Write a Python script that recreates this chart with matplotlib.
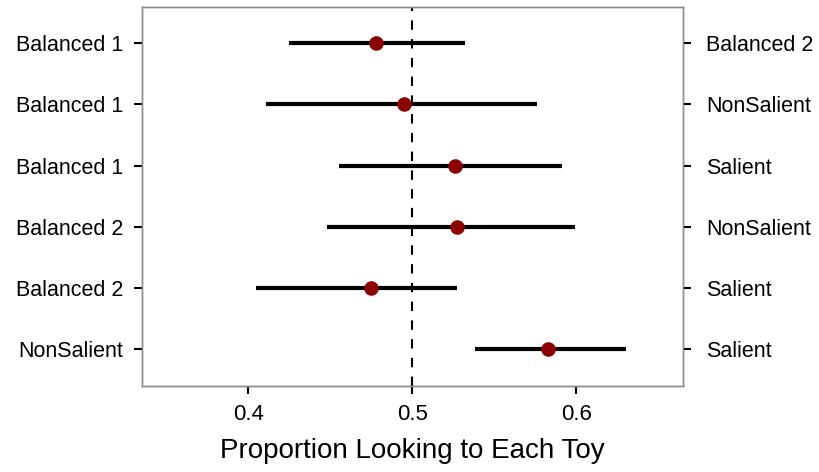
import matplotlib
matplotlib.use("Agg")
import matplotlib.pyplot as plt
import numpy as np

left_labels = ["Balanced 1", "Balanced 1", "Balanced 1", "Balanced 2", "Balanced 2", "NonSalient"]
right_labels = ["Balanced 2", "NonSalient", "Salient", "NonSalient", "Salient", "Salient"]
means = [0.478, 0.495, 0.526, 0.527, 0.475, 0.583]
lows = [0.425, 0.411, 0.455, 0.448, 0.4045, 0.538]
highs = [0.532, 0.576, 0.591, 0.599, 0.527, 0.630]
xticks = [0.4, 0.5, 0.6]
xlabel = "Proportion Looking to Each Toy"

plt.rcParams['font.family'] = ['Liberation Sans', 'DejaVu Sans']

fig = plt.figure(figsize=(8.2, 4.72), dpi=100)
ax = fig.add_axes([141.7/820, (472-386)/472, (683-141.7)/820, (386-6.5)/472])

n = len(means)
ys = np.arange(n)[::-1] + 1  # top row first
ax.hlines(ys, lows, highs, color='black', linewidth=3, zorder=2)
ax.scatter(means, ys, s=110, color='#8B0000', zorder=3, linewidths=0)
ax.axvline(0.5, color='black', linestyle=(0, (4.5, 4.5)), linewidth=1.5, zorder=1)

ax.set_xlim(0.335, 0.665)
ax.set_ylim(0.4, n + 0.6)
ax.set_xticks(xticks)
ax.set_xticklabels([f"{t:g}" for t in xticks], fontsize=16)
ax.set_yticks(ys)
ax.set_yticklabels(left_labels, fontsize=15.5)
ax.set_xlabel(xlabel, fontsize=20, labelpad=9)

ax2 = ax.twinx()
ax2.set_ylim(ax.get_ylim())
ax2.set_yticks(ys)
ax2.set_yticklabels(right_labels, fontsize=15.5)

for a in (ax, ax2):
    for s in a.spines.values():
        s.set_color('#8c8c8c')
        s.set_linewidth(1.0)
    a.tick_params(axis='both', direction='out', length=6, width=1.5, color='black')

ax.tick_params(axis='x', pad=7)
ax.tick_params(axis='y', pad=7.3)
ax2.tick_params(axis='y', pad=10.7)

fig.savefig("out.png", dpi=100)
